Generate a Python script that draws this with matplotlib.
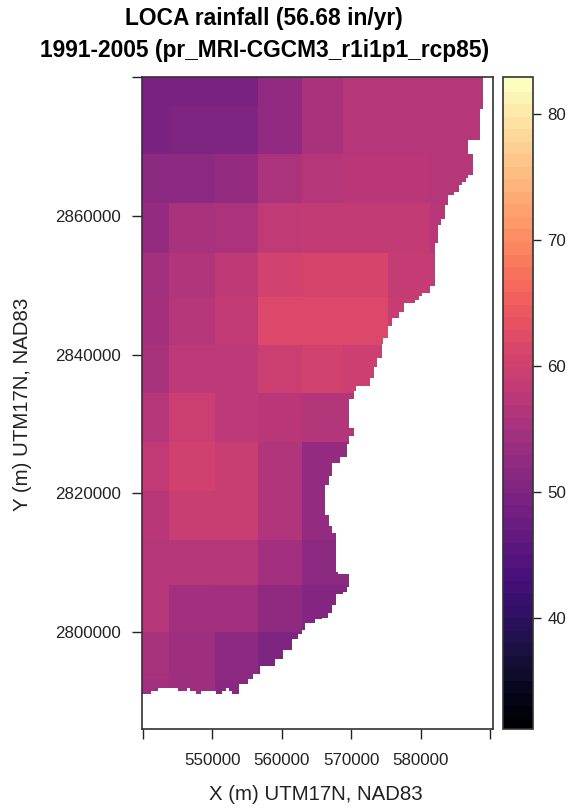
import numpy as np
import matplotlib
matplotlib.use('Agg')
import matplotlib.pyplot as plt
from matplotlib.cm import ScalarMappable
from matplotlib.colors import Normalize

plt.rcParams['font.family'] = ['Liberation Sans', 'DejaVu Sans']

# LOCA cell edges (m, UTM17N) and mean rainfall (in/yr), north to south
cell_x = [539800, 543750, 550250, 556550, 562900, 568800, 575150, 581350, 590000]
cell_y = [2880100, 2875730, 2868800, 2861730, 2854660, 2848170, 2841390, 2834310,
          2827390, 2820170, 2813250, 2806750, 2799970, 2793040, 2790000]
rain = [
    [49.4, 49.4, 49.4, 52.5, 55.6, 57.0, 57.0, 57.0],
    [49.4, 50.2, 50.2, 52.5, 55.6, 57.0, 57.0, 57.0],
    [52.0, 52.0, 53.0, 55.7, 57.0, 57.5, 57.5, 57.0],
    [53.0, 55.6, 56.0, 58.3, 58.8, 58.8, 58.8, 57.5],
    [54.7, 56.6, 58.2, 60.7, 61.2, 61.2, 59.0, 59.0],
    [55.0, 57.0, 58.5, 62.0, 62.0, 62.0, 59.2, 59.2],
    [55.6, 58.0, 58.0, 59.8, 60.7, 60.0, 60.0, 60.0],
    [57.0, 59.6, 58.0, 57.5, 56.8, 56.8, 56.8, 56.8],
    [58.5, 60.5, 59.4, 56.5, 53.0, 53.0, 53.0, 53.0],
    [57.5, 59.5, 59.5, 56.5, 53.0, 53.0, 53.0, 53.0],
    [57.0, 57.0, 57.0, 54.8, 52.0, 52.0, 52.0, 52.0],
    [57.0, 54.8, 54.5, 52.3, 51.0, 51.0, 51.0, 51.0],
    [55.5, 54.2, 51.9, 50.0, 50.0, 50.0, 50.0, 50.0],
    [54.5, 54.2, 51.7, 50.0, 50.0, 50.0, 50.0, 50.0],
]

# coastline steps: land reaches coast_x until coast_y going south
coast_y = [2875300, 2870820, 2868800, 2865770, 2865340, 2864760, 2864330, 2863320,
           2862890, 2861440, 2859420, 2858560, 2855960, 2849750, 2848740, 2848310,
           2847730, 2847300, 2846150, 2845280, 2843980, 2842400, 2841530, 2839510,
           2838070, 2836620, 2835320, 2834750, 2833450, 2829410, 2828110, 2826960,
           2825080, 2824360, 2822480, 2821040, 2816710, 2815270, 2814260, 2808630,
           2808340, 2806320, 2805740, 2805310, 2803870, 2802710, 2801990, 2801700,
           2801270, 2800260, 2799540, 2798820, 2797370, 2795930, 2794920, 2793910,
           2793040, 2792470, 2791020]
coast_x = [588950, 588400, 586830, 587410, 586830, 586400, 585970, 585390,
           584820, 583950, 583370, 582940, 582370, 581930, 581360, 580200,
           579630, 579200, 577610, 576750, 575740, 575160, 574580, 574300,
           573720, 573140, 572710, 570690, 570260, 569680, 570260, 569680,
           569250, 568240, 567230, 566800, 566230, 566800, 567230, 567810,
           568100, 569680, 569250, 568820, 567810, 567230, 566660, 565790,
           564790, 563340, 562910, 562340, 561470, 560170, 558880, 556860,
           555850, 554990, 553830]

# south edge of the land, west to east
south_x = [541150, 542160, 545040, 546340, 546770, 547490, 548360, 550380,
           551240, 551960, 552390, 552820, 553830]
south_y = [2791020, 2791460, 2791890, 2791460, 2791890, 2791460, 2791020, 2791460,
           2791020, 2791460, 2791890, 2791460, 2791020]

step = 125
gx = np.arange(cell_x[0], cell_x[-1], step) + step / 2
gy = np.arange(cell_y[0], cell_y[-1], -step) - step / 2

col = np.clip(np.searchsorted(cell_x, gx) - 1, 0, len(cell_x) - 2)
row = np.clip(np.searchsorted(-np.array(cell_y), -gy) - 1, 0, len(cell_y) - 2)
grid = np.array(rain)[row][:, col]

east = np.array(coast_x)[np.clip(np.searchsorted(-np.array(coast_y), -gy), 0, len(coast_x) - 1)]
south = np.array(south_y)[np.clip(np.searchsorted(south_x, gx), 0, len(south_x) - 1)]
mask = gx[None, :] > east[:, None]
mask = mask | (gy[:, None] < south[None, :])
grid = np.ma.masked_where(mask, grid)

fig = plt.figure(figsize=(5.74, 8.09), dpi=100)
ax = fig.add_axes([142 / 574, 1 - 729 / 809, 351 / 574, 652 / 809])
cax = fig.add_axes([503 / 574, 1 - 729 / 809, 30 / 574, 652 / 809])

norm = Normalize(31.2, 82.95)
ax.imshow(grid, cmap='magma', norm=norm, aspect='auto', interpolation='nearest',
          extent=[cell_x[0], cell_x[-1], cell_y[-1], cell_y[0]])
ax.set_xlim(539850, 590430)
ax.set_ylim(2785970, 2880060)

ax.set_xticks(range(540000, 590001, 10000))
ax.set_xticklabels(['', '550000', '560000', '570000', '580000', ''], fontsize=12.2, color='#222222')
ax.set_yticks(range(2800000, 2880001, 20000))
ax.set_yticklabels(['2800000', '2820000', '2840000', '2860000', ''], fontsize=12.2, color='#222222')
ax.tick_params(axis='both', length=7.2, width=1, color='#222222')
ax.tick_params(axis='x', pad=10)
ax.tick_params(axis='y', pad=8)
for s in ax.spines.values():
    s.set_linewidth(1.2)
    s.set_color('#333333')

cb = fig.colorbar(ScalarMappable(norm=norm, cmap=plt.get_cmap('magma', 52)), cax=cax)
cb.set_ticks([40, 50, 60, 70, 80])
cb.ax.minorticks_off()
cb.ax.tick_params(length=5.5, width=1, labelsize=12.2, pad=5, color='#222222', labelcolor='#222222')
cb.outline.set_linewidth(1.2)
cb.outline.set_edgecolor('#333333')
cb.solids.set_edgecolor('face')

fig.text(264 / 574, 1 - 19 / 809, 'LOCA rainfall (56.68 in/yr)', fontsize=16.4, fontweight='bold',
         ha='center', va='center')
fig.text(265 / 574, 1 - 51 / 809, '1991-2005 (pr_MRI-CGCM3_r1i1p1_rcp85)', fontsize=16.4,
         fontweight='bold', ha='center', va='center')
fig.text(316 / 574, 1 - 794 / 809, 'X (m) UTM17N, NAD83', fontsize=14.7, ha='center', va='center',
         color='#222222')
fig.text(23 / 574, 1 - 404 / 809, 'Y (m) UTM17N, NAD83', fontsize=14.7, rotation=90, ha='center',
         va='center', color='#222222')

fig.savefig('out.png', dpi=100)
